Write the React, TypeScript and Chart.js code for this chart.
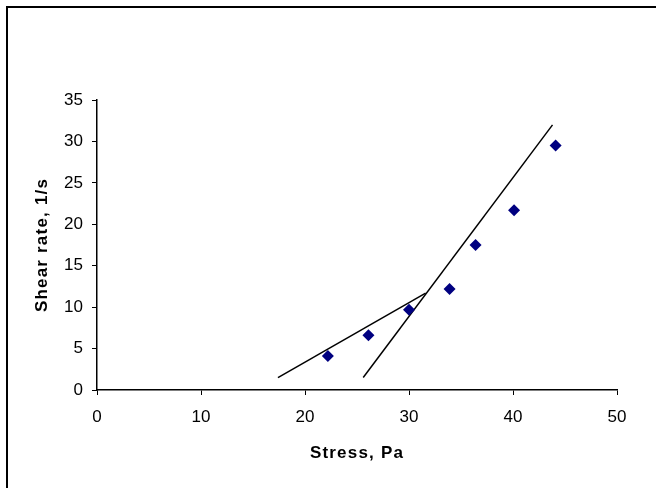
import React, { useEffect, useRef } from "react";
import { Chart, registerables } from "chart.js";

Chart.register(...registerables);

// Measured points
const stressPa = [22.2, 26.1, 30.0, 33.9, 36.4, 40.1, 44.1];
const shearRate = [4.1, 6.6, 9.7, 12.2, 17.5, 21.7, 29.5];

// Hand-drawn trend lines (end points)
const lowFitStress = [17.4, 31.6];
const lowFitShear = [1.5, 11.7];
const highFitStress = [25.6, 43.8];
const highFitShear = [1.5, 32.0];

// Axis ranges
const xMin = 0;
const xMax = 50;
const xStep = 10;
const yMin = 0;
const yMax = 35;
const yStep = 5;

const xTitle = "Stress, Pa";
const yTitle = "Shear rate, 1/s";

const toPoints = (xs: number[], ys: number[]) => xs.map((x, i) => ({ x, y: ys[i] }));

const frame = {
  id: "frame",
  beforeDraw(chart: any) {
    const ctx = chart.ctx;
    ctx.save();
    ctx.fillStyle = "#ffffff";
    ctx.fillRect(0, 0, chart.width, chart.height);
    ctx.strokeStyle = "#000000";
    ctx.lineWidth = 2;
    ctx.strokeRect(7, 7, chart.width + 40, chart.height + 40);
    ctx.restore();
  },
  afterLayout(chart: any) {
    ["x", "y"].forEach((id) => {
      const s = chart.scales[id];
      if (s && !s.__spaced) {
        const orig = s.drawTitle.bind(s);
        s.drawTitle = function () {
          const ctx = chart.ctx;
          ctx.save();
          ctx.letterSpacing = "1.2px";
          orig();
          ctx.restore();
        };
        s.__spaced = true;
      }
    });
  },
};

export default function App() {
  const ref = useRef<HTMLCanvasElement>(null);

  useEffect(() => {
    if (!ref.current) return;
    const tickFont = { family: "'Liberation Sans', Arial, sans-serif", size: 17 };
    const titleFont = { family: "'Liberation Sans', Arial, sans-serif", size: 17, weight: "bold" as const };
    const chart = new Chart(ref.current, {
      type: "scatter",
      data: {
        datasets: [
          {
            label: "Data",
            data: toPoints(stressPa, shearRate),
            pointStyle: "rectRot",
            pointRadius: 6,
            pointHoverRadius: 6,
            backgroundColor: "#000080",
            borderColor: "#000080",
            borderWidth: 0,
            showLine: false,
          },
          {
            label: "Low fit",
            data: toPoints(lowFitStress, lowFitShear),
            showLine: true,
            pointRadius: 0,
            borderColor: "#000000",
            borderWidth: 1.5,
            backgroundColor: "#000000",
          },
          {
            label: "High fit",
            data: toPoints(highFitStress, highFitShear),
            showLine: true,
            pointRadius: 0,
            borderColor: "#000000",
            borderWidth: 1.5,
            backgroundColor: "#000000",
          },
        ],
      },
      options: {
        responsive: false,
        animation: false,
        devicePixelRatio: 1,
        layout: { padding: { top: 100, right: 39, left: 0, bottom: 0 } },
        plugins: {
          legend: { display: false },
          tooltip: { enabled: false },
        },
        scales: {
          x: {
            type: "linear",
            min: xMin,
            max: xMax,
            ticks: { stepSize: xStep, color: "#000", font: tickFont, padding: 12, maxRotation: 0 },
            grid: { drawOnChartArea: false, color: "#000", tickLength: 5, lineWidth: 1 },
            border: { color: "#000", width: 1.5 },
            title: { display: true, text: xTitle, color: "#000", font: titleFont, padding: { top: 0, bottom: 24 } },
            afterFit: (s: any) => {
              s.height = 98;
            },
          },
          y: {
            type: "linear",
            min: yMin,
            max: yMax,
            ticks: { stepSize: yStep, color: "#000", font: tickFont, padding: 9 },
            grid: { drawOnChartArea: false, color: "#000", tickLength: 5, lineWidth: 1 },
            border: { color: "#000", width: 1.5 },
            title: { display: true, text: yTitle, color: "#000", font: titleFont, padding: { top: 32, bottom: 0 } },
            afterFit: (s: any) => {
              s.width = 97;
            },
          },
        },
      },
      plugins: [frame],
    });
    return () => chart.destroy();
  }, []);

  return (
    <div style={{ position: "fixed", left: 0, top: 0, width: 656, height: 488, background: "#fff" }}>
      <canvas ref={ref} width={656} height={488} style={{ display: "block", width: 656, height: 488 }} />
    </div>
  );
}
